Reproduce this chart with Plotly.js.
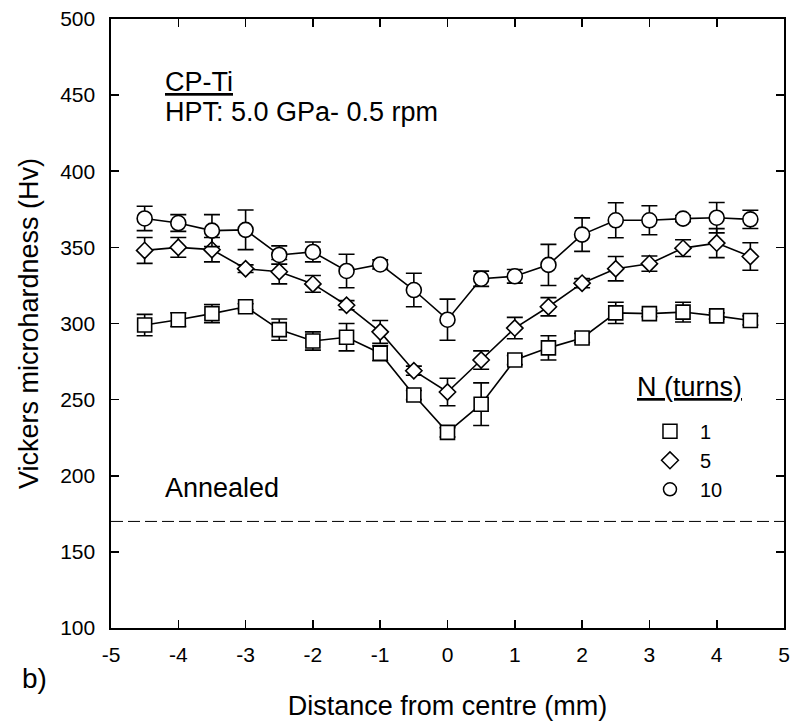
<!DOCTYPE html>
<html>
<head>
<meta charset="utf-8">
<script src="https://cdn.plot.ly/plotly-3.0.1.min.js"></script>
<style>html,body{margin:0;padding:0;background:#fff;}#chart{width:795px;height:725px;}</style>
</head>
<body>
<div id="chart"></div>
<script>
// Distance from centre (mm)
const distance = [-4.5, -4, -3.5, -3, -2.5, -2, -1.5, -1, -0.5, 0, 0.5, 1, 1.5, 2, 2.5, 3, 3.5, 4, 4.5];
// N = 1 turn
const hv1    = [299, 302.5, 306.5, 311, 296, 288.5, 291, 280.5, 253, 228.5, 247, 276, 284, 290.5, 307, 306.5, 307.5, 305, 302];
const hv1Err = [7, 4.5, 6, 2, 7, 6, 9, 5, 3, 3, 14, 3, 8, 3, 7, 2, 6.5, 2, 3];
// N = 5 turns
const hv5    = [348, 350, 348.5, 336, 334, 326, 312, 294.5, 269, 255, 276, 297, 311, 326.5, 336, 339.3, 349.5, 352.8, 344];
const hv5Err = [8.5, 6.5, 8, 2.5, 8, 5.5, 3, 7.5, 3, 9, 6, 7, 6, 3, 8, 5, 5.5, 9.5, 9];
// N = 10 turns
const hv10    = [369, 366, 361, 361.5, 345, 347, 334.5, 338.8, 322, 302.5, 329.4, 331, 338.5, 358.4, 367.8, 367.8, 368.9, 369.5, 368.4];
const hv10Err = [8, 5.5, 10.5, 13, 6, 6.5, 11, 3, 11, 13.5, 5, 4.5, 13.5, 11, 11.5, 9.5, 2, 10, 6];
// Annealed reference hardness
const annealed = 170;
const seriesNames = ['1', '5', '10'];
const xTicks = [-5, -4, -3, -2, -1, 0, 1, 2, 3, 4, 5];
const yTicks = [100, 150, 200, 250, 300, 350, 400, 450, 500];

const FONT = '"Liberation Sans", Arial, Helvetica, sans-serif';
const symbols = ['square', 'diamond', 'circle'];
const sizes = [14, 12.5, 15];
const legendSizes = [14, 13, 13];
const ys = [hv1, hv5, hv10];
const errs = [hv1Err, hv5Err, hv10Err];

const traces = [];
for (let i = 0; i < 3; i++) {
  traces.push({
    x: distance, y: ys[i], type: 'scatter', mode: 'lines+markers',
    showlegend: false,
    line: {color: 'black', width: 1.6},
    marker: {symbol: symbols[i], size: sizes[i], color: 'white', line: {color: 'black', width: 1.6}},
    error_y: {type: 'data', array: errs[i], visible: true, color: 'black', thickness: 1.6, width: 8},
    cliponaxis: false
  });
}
for (let i = 0; i < 3; i++) {
  traces.push({
    x: [null], y: [null], type: 'scatter', mode: 'markers', name: seriesNames[i],
    marker: {symbol: symbols[i], size: legendSizes[i], color: 'white', line: {color: 'black', width: 1.5}}
  });
}

const axisCommon = {
  showline: true, linecolor: 'black', linewidth: 1.6, mirror: 'ticks',
  ticks: 'inside', ticklen: 8, tickwidth: 1.6, tickcolor: 'black',
  showgrid: false, zeroline: false,
  tickfont: {family: FONT, size: 21, color: 'black'}
};

const layout = {
  width: 795, height: 725,
  margin: {l: 111, r: 11, t: 19, b: 97},
  paper_bgcolor: 'white', plot_bgcolor: 'white',
  font: {family: FONT, color: 'black'},
  xaxis: Object.assign({}, axisCommon, {
    range: [-5, 5], tickvals: xTicks, ticktext: xTicks.map(String),
    ticklabelstandoff: 7,
    title: {text: 'Distance from centre (mm)', font: {family: FONT, size: 27, color: 'black'}, standoff: 31},
    automargin: false
  }),
  yaxis: Object.assign({}, axisCommon, {
    range: [100, 500], tickvals: yTicks, ticktext: yTicks.map(String),
    ticklabelstandoff: 10,
    title: {text: 'Vickers microhardness (Hv)', font: {family: FONT, size: 27, color: 'black'}, standoff: 14},
    automargin: false
  }),
  showlegend: true,
  legend: {
    x: 0.786, y: 0.355, xanchor: 'left', yanchor: 'top',
    bgcolor: 'rgba(0,0,0,0)', borderwidth: 0,
    font: {family: FONT, size: 20, color: 'black'},
    itemwidth: 50, tracegroupgap: 0
  },
  shapes: [{
    type: 'line', xref: 'paper', x0: 0, x1: 1, yref: 'y', y0: annealed, y1: annealed,
    line: {color: 'black', width: 1, dash: '12px,5px'}
  }],
  annotations: [
    {text: '<u>CP-Ti</u>', xref: 'paper', yref: 'paper', x: 0.0773, y: 0.8966, xanchor: 'left', yanchor: 'middle', showarrow: false, font: {family: FONT, size: 27, color: 'black'}},
    {text: 'HPT: 5.0 GPa- 0.5 rpm', xref: 'paper', yref: 'paper', x: 0.0773, y: 0.847, xanchor: 'left', yanchor: 'middle', showarrow: false, font: {family: FONT, size: 27, color: 'black'}},
    {text: 'Annealed', xref: 'paper', yref: 'paper', x: 0.0773, y: 0.2298, xanchor: 'left', yanchor: 'middle', showarrow: false, font: {family: FONT, size: 27, color: 'black'}},
    {text: '<u>N (turns)</u>', xref: 'paper', yref: 'paper', x: (635 - 111) / 673, y: 0.396, xanchor: 'left', yanchor: 'middle', showarrow: false, font: {family: FONT, size: 27, color: 'black'}},
    {text: 'b)', xref: 'paper', yref: 'paper', x: (20 - 111) / 673, y: -0.083, xanchor: 'left', yanchor: 'middle', showarrow: false, font: {family: FONT, size: 28, color: 'black'}}
  ]
};

Plotly.newPlot('chart', traces, layout, {displayModeBar: false, staticPlot: true});
</script>
</body>
</html>
